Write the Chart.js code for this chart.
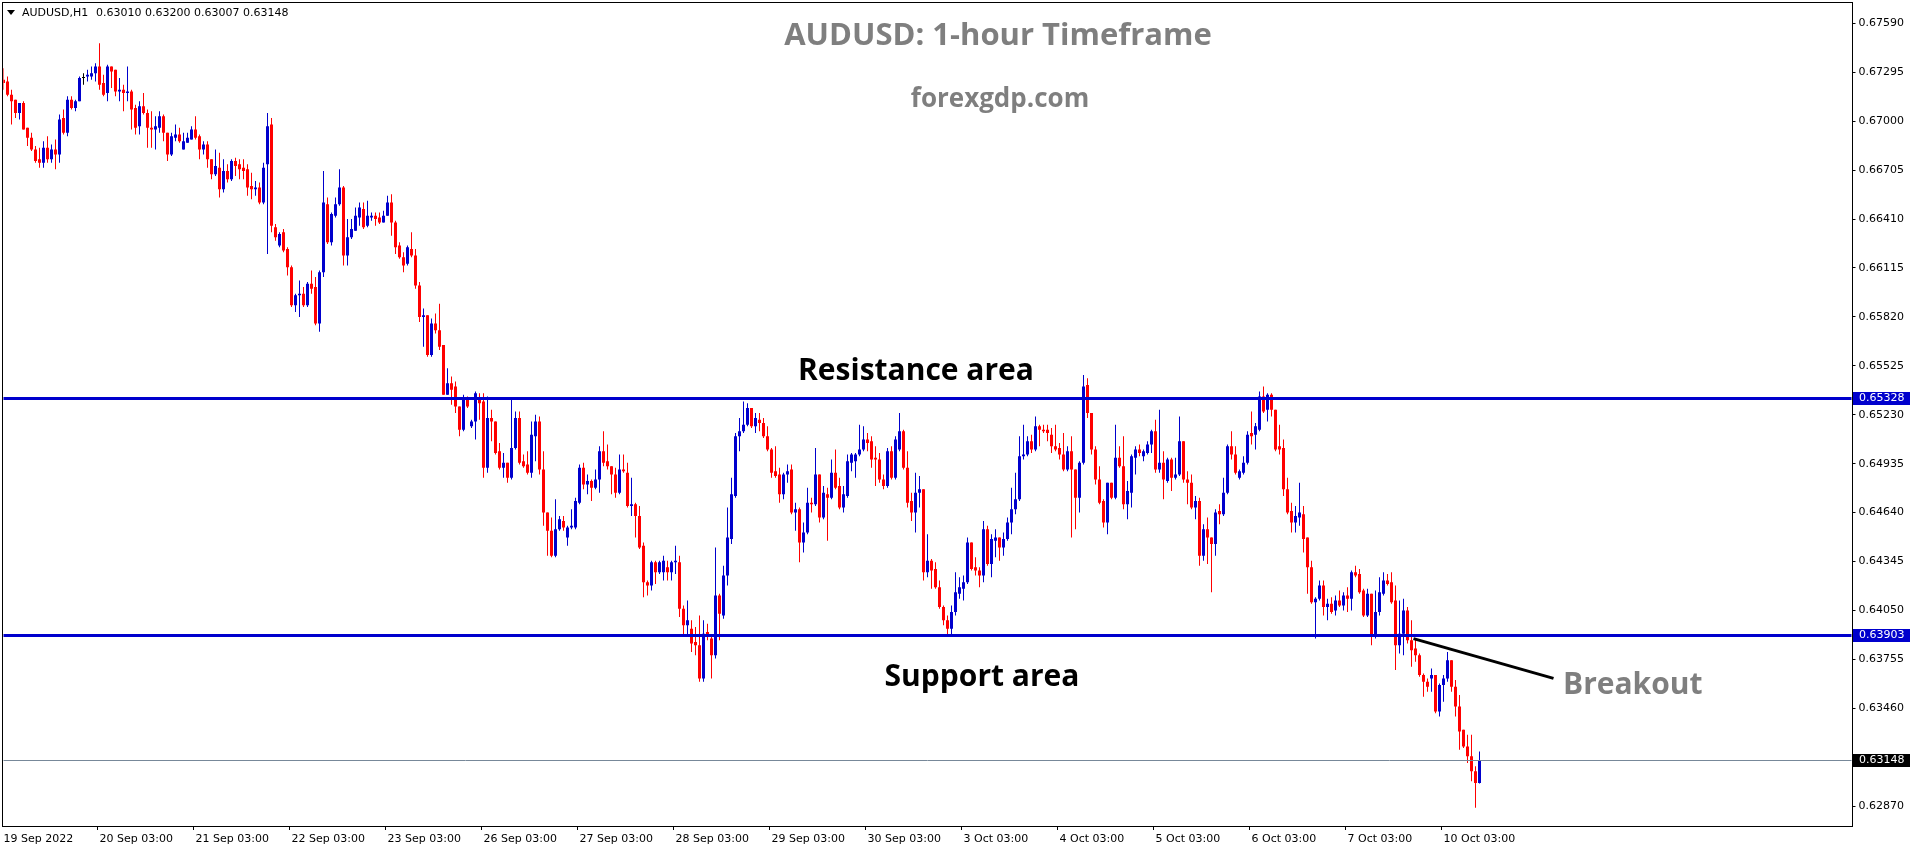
<!DOCTYPE html>
<html><head><meta charset="utf-8">
<script src="https://cdn.jsdelivr.net/npm/chart.js@4.4.0/dist/chart.umd.min.js"></script>
<style>html,body{margin:0;padding:0;background:#fff;}#wrap{width:1916px;height:850px;position:relative;}</style>
</head><body><div id="wrap"><canvas id="c" width="1916" height="850"></canvas></div>
<script>
const open = [0.6725,0.6724,0.6716,0.6713,0.6705,0.6711,0.6696,0.6690,0.6683,0.6677,
0.6675,0.6684,0.6677,0.6683,0.6680,0.6702,0.6693,0.6713,0.6708,0.6712,
0.6726,0.6727,0.6727,0.6729,0.6733,0.6723,0.6717,0.6733,0.6731,0.6718,
0.6719,0.6717,0.6718,0.6708,0.6697,0.6709,0.6705,0.6696,0.6695,0.6696,
0.6703,0.6693,0.6680,0.6690,0.6692,0.6683,0.6687,0.6689,0.6695,0.6691,
0.6683,0.6686,0.6677,0.6668,0.6672,0.6659,0.6670,0.6665,0.6676,0.6674,
0.6672,0.6671,0.6661,0.6659,0.6660,0.6651,0.6674,0.6698,0.6636,0.6625,
0.6633,0.6623,0.6612,0.6589,0.6595,0.6596,0.6589,0.6602,0.6600,0.6578,
0.6609,0.6650,0.6627,0.6643,0.6650,0.6660,0.6619,0.6630,0.6634,0.6642,
0.6647,0.6637,0.6642,0.6643,0.6642,0.6639,0.6643,0.6651,0.6639,0.6625,
0.6618,0.6614,0.6623,0.6619,0.6601,0.6582,0.6583,0.6559,0.6578,0.6574,
0.6565,0.6535,0.6542,0.6540,0.6528,0.6514,0.6532,0.6516,0.6519,0.6532,
0.6531,0.6491,0.6521,0.6519,0.6501,0.6491,0.6494,0.6485,0.6503,0.6521,
0.6495,0.6493,0.6488,0.6510,0.6519,0.6490,0.6464,0.6453,0.6438,0.6454,
0.6459,0.6449,0.6455,0.6455,0.6470,0.6491,0.6481,0.6483,0.6479,0.6484,
0.6501,0.6495,0.6492,0.6487,0.6476,0.6490,0.6488,0.6468,0.6469,0.6462,
0.6444,0.6422,0.6420,0.6434,0.6428,0.6428,0.6431,0.6428,0.6434,0.6434,
0.6406,0.6396,0.6394,0.6386,0.6384,0.6364,0.6392,0.6388,0.6378,0.6414,
0.6402,0.6426,0.6448,0.6474,0.6510,0.6513,0.6517,0.6527,0.6516,0.6520,
0.6518,0.6510,0.6502,0.6489,0.6487,0.6475,0.6487,0.6490,0.6464,0.6466,
0.6446,0.6452,0.6470,0.6469,0.6487,0.6461,0.6475,0.6473,0.6488,0.6480,
0.6467,0.6474,0.6494,0.6495,0.6499,0.6502,0.6508,0.6507,0.6497,0.6496,
0.6484,0.6480,0.6501,0.6485,0.6502,0.6513,0.6491,0.6471,0.6464,0.6476,
0.6478,0.6428,0.6435,0.6430,0.6419,0.6407,0.6399,0.6394,0.6404,0.6415,
0.6418,0.6422,0.6446,0.6431,0.6429,0.6426,0.6454,0.6433,0.6447,0.6449,
0.6443,0.6448,0.6458,0.6466,0.6472,0.6498,0.6499,0.6507,0.6502,0.6516,
0.6514,0.6514,0.6511,0.6504,0.6503,0.6499,0.6490,0.6501,0.6490,0.6473,
0.6494,0.6541,0.6524,0.6502,0.6484,0.6471,0.6458,0.6482,0.6473,0.6497,
0.6492,0.6469,0.6476,0.6497,0.6502,0.6498,0.6500,0.6505,0.6513,0.6490,
0.6494,0.6483,0.6496,0.6485,0.6487,0.6507,0.6484,0.6482,0.6467,0.6471,
0.6438,0.6454,0.6449,0.6445,0.6465,0.6463,0.6476,0.6504,0.6499,0.6485,
0.6488,0.6494,0.6512,0.6511,0.6514,0.6534,0.6526,0.6535,0.6526,0.6504,
0.6503,0.6478,0.6465,0.6458,0.6461,0.6463,0.6449,0.6431,0.6410,0.6412,
0.6420,0.6407,0.6409,0.6405,0.6411,0.6408,0.6414,0.6412,0.6428,0.6427,
0.6417,0.6402,0.6415,0.6389,0.6404,0.6415,0.6423,0.6422,0.6411,0.6384,
0.6391,0.6405,0.6387,0.6382,0.6378,0.6366,0.6362,0.6364,0.6366,0.6344,
0.6360,0.6364,0.6375,0.6359,0.6347,0.6333,0.6323,0.6317,0.6308,0.63010];

const high = [0.6732,0.6727,0.6719,0.6713,0.6711,0.6712,0.6696,0.6693,0.6685,0.6684,
0.6688,0.6691,0.6686,0.6689,0.6704,0.6707,0.6715,0.6715,0.6713,0.6727,
0.6729,0.6731,0.6733,0.6735,0.6747,0.6728,0.6734,0.6733,0.6731,0.6726,
0.6722,0.6733,0.6719,0.6710,0.6712,0.6717,0.6707,0.6706,0.6703,0.6706,
0.6704,0.6693,0.6693,0.6698,0.6696,0.6693,0.6693,0.6697,0.6703,0.6692,
0.6688,0.6688,0.6677,0.6683,0.6681,0.6677,0.6674,0.6677,0.6678,0.6677,
0.6677,0.6674,0.6669,0.6664,0.6663,0.6675,0.6705,0.6702,0.6638,0.6633,
0.6635,0.6624,0.6613,0.6596,0.6604,0.6600,0.6603,0.6610,0.6606,0.6610,
0.6670,0.6654,0.6645,0.6654,0.6671,0.6661,0.6641,0.6641,0.6648,0.6651,
0.6651,0.6652,0.6645,0.6645,0.6645,0.6646,0.6655,0.6656,0.6640,0.6627,
0.6621,0.6625,0.6633,0.6623,0.6603,0.6587,0.6583,0.6581,0.6584,0.6590,
0.6565,0.6551,0.6546,0.6543,0.6528,0.6535,0.6534,0.6520,0.6537,0.6536,
0.6536,0.6534,0.6526,0.6519,0.6506,0.6500,0.6494,0.6532,0.6525,0.6525,
0.6499,0.6501,0.6519,0.6523,0.6522,0.6501,0.6464,0.6461,0.6472,0.6462,
0.6462,0.6456,0.6466,0.6473,0.6493,0.6494,0.6487,0.6484,0.6490,0.6504,
0.6513,0.6505,0.6492,0.6491,0.6499,0.6499,0.6494,0.6485,0.6470,0.6468,
0.6446,0.6423,0.6435,0.6435,0.6435,0.6438,0.6435,0.6435,0.6444,0.6438,
0.6408,0.6411,0.6399,0.6395,0.6402,0.6399,0.6397,0.6390,0.6443,0.6415,
0.6432,0.6467,0.6485,0.6512,0.6521,0.6531,0.6530,0.6527,0.6524,0.6524,
0.6521,0.6516,0.6503,0.6504,0.6491,0.6488,0.6493,0.6493,0.6470,0.6467,
0.6458,0.6479,0.6473,0.6503,0.6487,0.6480,0.6479,0.6496,0.6502,0.6485,
0.6480,0.6499,0.6500,0.6500,0.6517,0.6516,0.6512,0.6510,0.6504,0.6500,
0.6487,0.6503,0.6504,0.6510,0.6524,0.6514,0.6501,0.6476,0.6488,0.6486,
0.6478,0.6451,0.6436,0.6434,0.6423,0.6408,0.6402,0.6408,0.6428,0.6425,
0.6426,0.6449,0.6446,0.6437,0.6431,0.6459,0.6456,0.6451,0.6454,0.6449,
0.6452,0.6461,0.6479,0.6488,0.6510,0.6517,0.6510,0.6511,0.6522,0.6517,
0.6517,0.6517,0.6515,0.6517,0.6506,0.6512,0.6504,0.6510,0.6490,0.6495,
0.6547,0.6545,0.6524,0.6504,0.6492,0.6472,0.6482,0.6482,0.6517,0.6504,
0.6510,0.6483,0.6499,0.6504,0.6505,0.6502,0.6507,0.6514,0.6520,0.6526,
0.6501,0.6497,0.6497,0.6497,0.6522,0.6507,0.6489,0.6487,0.6474,0.6473,
0.6457,0.6461,0.6449,0.6466,0.6469,0.6485,0.6505,0.6513,0.6504,0.6490,
0.6498,0.6513,0.6525,0.6518,0.6537,0.6540,0.6536,0.6536,0.6526,0.6517,
0.6508,0.6485,0.6470,0.6468,0.6482,0.6468,0.6449,0.6435,0.6413,0.6423,
0.6423,0.6412,0.6413,0.6414,0.6417,0.6416,0.6419,0.6429,0.6432,0.6430,
0.6418,0.6418,0.6415,0.6417,0.6425,0.6428,0.6427,0.6428,0.6420,0.6411,
0.6412,0.6407,0.6399,0.6388,0.6379,0.6367,0.6364,0.6370,0.6366,0.6361,
0.6366,0.6380,0.6375,0.6363,0.6354,0.6333,0.6330,0.6330,0.6311,0.63200];

const low = [0.6719,0.6715,0.6698,0.6702,0.6701,0.6695,0.6685,0.6682,0.6675,0.6672,
0.6672,0.6675,0.6675,0.6671,0.6675,0.6692,0.6691,0.6707,0.6706,0.6712,
0.6722,0.6724,0.6725,0.6724,0.6719,0.6715,0.6712,0.6720,0.6715,0.6712,
0.6706,0.6712,0.6695,0.6692,0.6692,0.6704,0.6684,0.6684,0.6683,0.6693,
0.6688,0.6676,0.6679,0.6688,0.6687,0.6683,0.6687,0.6689,0.6689,0.6677,
0.6680,0.6672,0.6665,0.6667,0.6654,0.6657,0.6663,0.6664,0.6667,0.6665,
0.6665,0.6655,0.6653,0.6655,0.6650,0.6650,0.6620,0.6633,0.6628,0.6624,
0.6621,0.6607,0.6588,0.6585,0.6582,0.6588,0.6588,0.6596,0.6577,0.6573,
0.6606,0.6626,0.6625,0.6642,0.6649,0.6613,0.6613,0.6629,0.6634,0.6637,
0.6635,0.6636,0.6640,0.6637,0.6638,0.6639,0.6643,0.6631,0.6620,0.6617,
0.6609,0.6613,0.6618,0.6599,0.6579,0.6564,0.6558,0.6558,0.6572,0.6562,
0.6535,0.6535,0.6529,0.6524,0.6510,0.6513,0.6527,0.6515,0.6508,0.6520,
0.6485,0.6488,0.6507,0.6499,0.6490,0.6485,0.6482,0.6484,0.6502,0.6493,
0.6491,0.6487,0.6485,0.6495,0.6487,0.6456,0.6438,0.6437,0.6437,0.6453,
0.6453,0.6444,0.6454,0.6454,0.6469,0.6478,0.6475,0.6471,0.6478,0.6476,
0.6492,0.6490,0.6475,0.6473,0.6475,0.6488,0.6467,0.6462,0.6449,0.6442,
0.6413,0.6414,0.6417,0.6421,0.6427,0.6423,0.6423,0.6423,0.6427,0.6401,
0.6390,0.6390,0.6380,0.6378,0.6362,0.6362,0.6387,0.6364,0.6376,0.6387,
0.6400,0.6420,0.6445,0.6473,0.6501,0.6512,0.6516,0.6515,0.6512,0.6513,
0.6509,0.6501,0.6485,0.6485,0.6470,0.6472,0.6482,0.6463,0.6453,0.6434,
0.6440,0.6451,0.6464,0.6468,0.6458,0.6460,0.6447,0.6472,0.6478,0.6466,
0.6464,0.6473,0.6489,0.6485,0.6498,0.6501,0.6501,0.6491,0.6480,0.6482,
0.6478,0.6479,0.6484,0.6484,0.6501,0.6490,0.6467,0.6459,0.6452,0.6467,
0.6423,0.6425,0.6418,0.6418,0.6406,0.6396,0.6390,0.6390,0.6402,0.6412,
0.6411,0.6421,0.6429,0.6426,0.6419,0.6422,0.6432,0.6425,0.6437,0.6435,
0.6438,0.6447,0.6451,0.6463,0.6471,0.6496,0.6498,0.6500,0.6501,0.6504,
0.6512,0.6507,0.6500,0.6501,0.6496,0.6489,0.6489,0.6449,0.6454,0.6464,
0.6493,0.6521,0.6499,0.6481,0.6469,0.6455,0.6451,0.6472,0.6472,0.6491,
0.6466,0.6460,0.6467,0.6487,0.6498,0.6495,0.6499,0.6500,0.6488,0.6488,
0.6472,0.6482,0.6477,0.6484,0.6486,0.6482,0.6469,0.6466,0.6460,0.6432,
0.6435,0.6433,0.6416,0.6438,0.6457,0.6462,0.6475,0.6496,0.6487,0.6484,
0.6487,0.6493,0.6505,0.6502,0.6513,0.6524,0.6519,0.6522,0.6501,0.6499,
0.6474,0.6463,0.6452,0.6452,0.6456,0.6440,0.6415,0.6409,0.6388,0.6411,
0.6402,0.6399,0.6403,0.6402,0.6407,0.6405,0.6404,0.6405,0.6425,0.6415,
0.6401,0.6401,0.6384,0.6388,0.6402,0.6414,0.6420,0.6409,0.6369,0.6379,
0.6378,0.6385,0.6371,0.6374,0.6365,0.6353,0.6356,0.6356,0.6343,0.6341,
0.6350,0.6362,0.6356,0.6341,0.6321,0.6322,0.6313,0.6302,0.6286,0.63007];

const close = [0.6723,0.6716,0.6712,0.6705,0.6711,0.6695,0.6690,0.6683,0.6676,0.6675,
0.6684,0.6677,0.6683,0.6680,0.6701,0.6693,0.6713,0.6708,0.6712,0.6726,
0.6726,0.6728,0.6729,0.6733,0.6722,0.6716,0.6733,0.6730,0.6718,0.6719,
0.6717,0.6718,0.6707,0.6696,0.6709,0.6705,0.6696,0.6695,0.6697,0.6703,
0.6693,0.6680,0.6691,0.6692,0.6688,0.6688,0.6690,0.6695,0.6690,0.6683,
0.6686,0.6677,0.6668,0.6673,0.6659,0.6670,0.6665,0.6676,0.6673,0.6671,
0.6670,0.6660,0.6659,0.6660,0.6651,0.6672,0.6697,0.6637,0.6630,0.6632,
0.6622,0.6612,0.6589,0.6595,0.6596,0.6589,0.6602,0.6599,0.6578,0.6609,
0.6651,0.6627,0.6644,0.6650,0.6660,0.6619,0.6630,0.6635,0.6643,0.6648,
0.6636,0.6643,0.6643,0.6641,0.6639,0.6643,0.6651,0.6639,0.6624,0.6618,
0.6613,0.6624,0.6619,0.6601,0.6582,0.6583,0.6559,0.6578,0.6574,0.6564,
0.6535,0.6542,0.6538,0.6528,0.6514,0.6532,0.6528,0.6519,0.6536,0.6530,
0.6491,0.6521,0.6519,0.6500,0.6491,0.6494,0.6485,0.6503,0.6521,0.6494,
0.6492,0.6488,0.6511,0.6519,0.6490,0.6464,0.6453,0.6438,0.6454,0.6460,
0.6455,0.6455,0.6456,0.6471,0.6491,0.6481,0.6483,0.6479,0.6484,0.6501,
0.6494,0.6492,0.6487,0.6476,0.6490,0.6489,0.6468,0.6469,0.6462,0.6443,
0.6422,0.6420,0.6434,0.6428,0.6434,0.6435,0.6428,0.6434,0.6435,0.6406,
0.6396,0.6399,0.6385,0.6384,0.6364,0.6391,0.6389,0.6378,0.6414,0.6403,
0.6426,0.6449,0.6475,0.6510,0.6513,0.6517,0.6527,0.6516,0.6521,0.6518,
0.6510,0.6502,0.6488,0.6486,0.6475,0.6487,0.6489,0.6464,0.6466,0.6446,
0.6452,0.6470,0.6469,0.6487,0.6461,0.6476,0.6473,0.6488,0.6479,0.6467,
0.6475,0.6495,0.6499,0.6499,0.6502,0.6508,0.6506,0.6496,0.6496,0.6484,
0.6480,0.6501,0.6485,0.6508,0.6513,0.6491,0.6470,0.6464,0.6476,0.6478,
0.6428,0.6435,0.6429,0.6419,0.6407,0.6399,0.6394,0.6404,0.6416,0.6419,
0.6422,0.6446,0.6430,0.6429,0.6426,0.6454,0.6433,0.6448,0.6449,0.6443,
0.6448,0.6458,0.6466,0.6472,0.6498,0.6499,0.6507,0.6502,0.6516,0.6514,
0.6513,0.6512,0.6504,0.6502,0.6499,0.6490,0.6501,0.6490,0.6473,0.6494,
0.6540,0.6524,0.6502,0.6484,0.6470,0.6458,0.6482,0.6473,0.6497,0.6492,
0.6469,0.6477,0.6498,0.6502,0.6500,0.6501,0.6505,0.6513,0.6490,0.6494,
0.6484,0.6496,0.6485,0.6487,0.6507,0.6484,0.6482,0.6467,0.6471,0.6438,
0.6454,0.6449,0.6445,0.6464,0.6463,0.6476,0.6504,0.6499,0.6488,0.6489,
0.6494,0.6511,0.6510,0.6516,0.6534,0.6525,0.6535,0.6526,0.6502,0.6502,
0.6478,0.6464,0.6458,0.6462,0.6464,0.6448,0.6431,0.6410,0.6412,0.6420,
0.6407,0.6409,0.6404,0.6411,0.6408,0.6414,0.6412,0.6428,0.6426,0.6416,
0.6402,0.6415,0.6389,0.6404,0.6416,0.6423,0.6421,0.6410,0.6384,0.6391,
0.6405,0.6387,0.6381,0.6378,0.6366,0.6362,0.6359,0.6366,0.6344,0.6360,
0.6364,0.6375,0.6359,0.6347,0.6332,0.6323,0.6317,0.6308,0.6301,0.63148];

// x-axis tick labels (bar index -> text)
const tickIdx  = [0,24,48,72,96,120,144,168,192,216,240,264,288,312,336,360];
const tickText = ['19 Sep 2022','20 Sep 03:00','21 Sep 03:00','22 Sep 03:00','23 Sep 03:00','26 Sep 03:00','27 Sep 03:00','28 Sep 03:00','29 Sep 03:00','30 Sep 03:00','3 Oct 03:00','4 Oct 03:00','5 Oct 03:00','6 Oct 03:00','7 Oct 03:00','10 Oct 03:00'];
// y-axis tick values
const yTicks = [0.67590,0.67295,0.67000,0.66705,0.66410,0.66115,0.65820,0.65525,0.65230,0.64935,0.64640,0.64345,0.64050,0.63755,0.63460,0.62870];
// levels
const resistance = 0.65328;
const support = 0.63903;
const lastPrice = 0.63148;
const breakoutFrom = [352.5, 0.6388];
const breakoutTo = [387.5, 0.6364];
const totalSlots = 463;

// categories: hourly bar times, skipping weekends
const MONTHS = ['Jan','Feb','Mar','Apr','May','Jun','Jul','Aug','Sep','Oct','Nov','Dec'];
const categories = [];
(function(){
  let t = Date.UTC(2022, 8, 19, 3);
  while (categories.length < open.length) {
    const d = new Date(t);
    const wd = d.getUTCDay();
    if (wd !== 0 && wd !== 6) {
      categories.push(d.getUTCDate() + ' ' + MONTHS[d.getUTCMonth()] + ' ' + String(d.getUTCHours()).padStart(2,'0') + ':00');
    }
    t += 3600000;
  }
})();
const labels = categories.concat(new Array(totalSlots - categories.length).fill(''));
const tickMap = {}; tickIdx.forEach((ix, k) => tickMap[ix] = tickText[k]);

const UP = '#0000CD', DOWN = '#FF0000', DOJI = '#000000';
const colors = open.map((o, i) => close[i] > o ? UP : (close[i] < o ? DOWN : DOJI));

const AX_FONT = {family: 'DejaVu Sans', size: 11};

const overlay = {
  id: 'overlay',
  beforeDraw(chart) {
    const ctx = chart.ctx;
    ctx.save(); ctx.fillStyle = '#fff'; ctx.fillRect(0, 0, chart.width, chart.height); ctx.restore();
  },
  afterDatasetsDraw(chart) {
    const ctx = chart.ctx, a = chart.chartArea, y = chart.scales.y, x = chart.scales.x;
    ctx.save();
    // current price line
    let py = Math.round(y.getPixelForValue(lastPrice)) + 0.5;
    ctx.strokeStyle = '#778899'; ctx.lineWidth = 1;
    ctx.beginPath(); ctx.moveTo(a.left, py); ctx.lineTo(a.right, py); ctx.stroke();
    // resistance / support
    ctx.strokeStyle = '#0000CD'; ctx.lineWidth = 3;
    [resistance, support].forEach(v => {
      const yy = Math.round(y.getPixelForValue(v)) + 0.5;
      ctx.beginPath(); ctx.moveTo(a.left, yy); ctx.lineTo(a.right, yy); ctx.stroke();
    });
    // breakout line
    ctx.strokeStyle = '#000'; ctx.lineWidth = 3;
    ctx.beginPath();
    ctx.moveTo(x.getPixelForValue(breakoutFrom[0]), y.getPixelForValue(breakoutFrom[1]));
    ctx.lineTo(x.getPixelForValue(breakoutTo[0]), y.getPixelForValue(breakoutTo[1]));
    ctx.stroke();
    // frame
    ctx.strokeStyle = '#000'; ctx.lineWidth = 1;
    ctx.strokeRect(Math.floor(a.left) - 0.5, Math.floor(a.top) + 0.5, Math.round(a.right) - Math.floor(a.left) + 1, Math.round(a.bottom) - Math.floor(a.top));
    // texts
    ctx.textBaseline = 'alphabetic';
    ctx.textAlign = 'center';
    ctx.fillStyle = '#7f7f7f';
    ctx.font = 'bold 31px "Open Sans"';
    ctx.fillText('AUDUSD: 1-hour Timeframe', 998, 45);
    ctx.font = 'bold 26px "Open Sans"';
    ctx.fillText('forexgdp.com', 1000, 107);
    ctx.fillStyle = '#000';
    ctx.font = 'bold 30px "Open Sans"';
    ctx.fillText('Resistance area', 916, 380);
    ctx.fillText('Support area', 982, 686);
    ctx.textAlign = 'left';
    ctx.fillStyle = '#7f7f7f';
    ctx.fillText('Breakout', 1563, 694);
    // top-left info
    ctx.fillStyle = '#000';
    ctx.beginPath(); ctx.moveTo(7, 10); ctx.lineTo(15, 10); ctx.lineTo(11, 15); ctx.closePath(); ctx.fill();
    ctx.font = '11px "DejaVu Sans"'; ctx.textBaseline = 'middle';
    ctx.fillText('AUDUSD,H1', 22, 13);
    ctx.fillText(open[open.length-1].toFixed(5) + ' ' + high[high.length-1].toFixed(5) + ' ' + low[low.length-1].toFixed(5) + ' ' + close[close.length-1].toFixed(5), 96, 13);
    ctx.restore();
  },
  afterDraw(chart) {
    const ctx = chart.ctx, y = chart.scales.y, a = chart.chartArea;
    ctx.save();
    ctx.font = '11px "DejaVu Sans"'; ctx.textBaseline = 'middle'; ctx.textAlign = 'left';
    [[resistance, '#0000CD'], [support, '#0000CD'], [lastPrice, '#000000']].forEach(([v, c]) => {
      const yy = Math.round(y.getPixelForValue(v));
      ctx.fillStyle = c; ctx.fillRect(Math.round(a.right) + 1, yy - 6, 57, 13);
      ctx.fillStyle = '#fff'; ctx.fillText(v.toFixed(5), 1859, yy + 0.5);
    });
    ctx.restore();
  }
};

new Chart(document.getElementById('c'), {
  type: 'bar',
  data: {
    labels: labels,
    datasets: [
      { label: 'body', data: open.map((o, i) => [o, close[i]]), backgroundColor: colors, barThickness: 3, minBarLength: 1, grouped: false, borderWidth: 0, inflateAmount: 0, order: 0 },
      { label: 'wick', data: low.map((l, i) => [l, high[i]]), backgroundColor: colors, barThickness: 1, grouped: false, borderWidth: 0, inflateAmount: 0, order: 1 }
    ]
  },
  options: {
    responsive: false, animation: false, events: [],
    layout: { padding: { left: 3.5, top: 2, right: 0, bottom: 0 } },
    plugins: { legend: { display: false }, tooltip: { enabled: false }, title: { display: false } },
    scales: {
      x: {
        type: 'category', offset: false,
        grid: { drawOnChartArea: false, drawTicks: true, tickLength: 4, color: c => (tickMap[c.index] !== undefined ? '#000' : 'rgba(0,0,0,0)') },
        border: { display: false },
        ticks: { autoSkip: false, maxRotation: 0, minRotation: 0, align: 'start', padding: 3, color: '#000', font: AX_FONT,
                 callback: (v, i) => (tickMap[i] !== undefined ? tickMap[i] : '') },
        afterFit: s => { s.height = 24; s.paddingLeft = 0; s.paddingRight = 0; }
      },
      y: {
        type: 'linear', position: 'right', min: 0.62750, max: 0.67719,
        afterBuildTicks: s => { s.ticks = yTicks.map(v => ({ value: v })); },
        grid: { drawOnChartArea: false, drawTicks: true, tickLength: 4, color: '#000' },
        border: { display: false },
        ticks: { autoSkip: false, padding: 3, color: '#000', font: AX_FONT, callback: v => Number(v).toFixed(5) },
        afterFit: s => { s.width = 64.5; s.paddingTop = 0; s.paddingBottom = 0; }
      }
    }
  },
  plugins: [overlay]
});
</script>
</body></html>
